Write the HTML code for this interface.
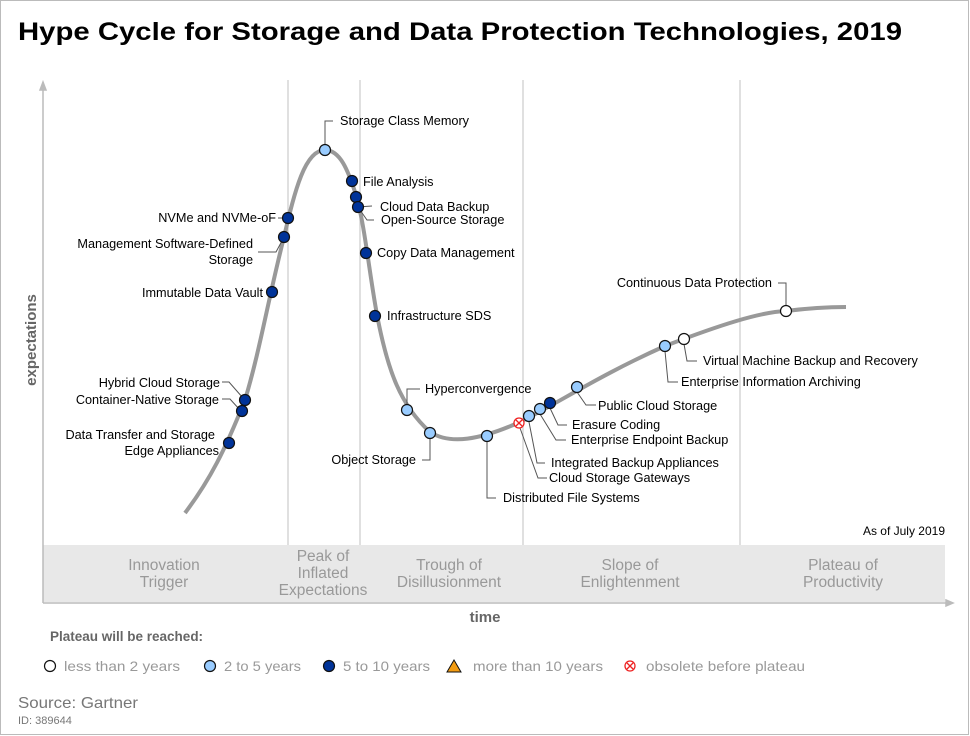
<!DOCTYPE html>
<html><head><meta charset="utf-8"><style>
html,body{margin:0;padding:0;background:#fff}
svg{display:block;font-family:"Liberation Sans",Arial,sans-serif}
</style></head><body>
<svg width="970" height="736" viewBox="0 0 970 736" xmlns="http://www.w3.org/2000/svg">
<rect x="0.5" y="0.5" width="968" height="734" fill="#fff" stroke="#bbb"/>
<text x="18" y="40" font-size="25" font-weight="bold" fill="#000" textLength="884" lengthAdjust="spacingAndGlyphs">Hype Cycle for Storage  and Data Protection Technologies, 2019</text>
<rect x="43" y="545" width="902" height="57" fill="#e8e8e8"/>
<g stroke="#ccc" stroke-width="1.2">
<line x1="288" y1="80" x2="288" y2="545"/><line x1="360" y1="80" x2="360" y2="545"/>
<line x1="523" y1="80" x2="523" y2="545"/><line x1="740" y1="80" x2="740" y2="545"/>
</g>
<g stroke="#bbb" stroke-width="1.5" fill="#bbb">
<line x1="43" y1="88" x2="43" y2="603"/><polygon points="40,90 43,82 46,90"/>
<line x1="43" y1="603" x2="948" y2="603"/><polygon points="946,600 953,603 946,606"/>
</g>
<text x="36" y="340" font-size="15" font-weight="bold" fill="#666" transform="rotate(-90 36 340)" text-anchor="middle">expectations</text>
<text x="485" y="622" font-size="15" font-weight="bold" fill="#666" text-anchor="middle">time</text>
<g font-size="15.5" fill="#999" text-anchor="middle">
<text x="164" y="570">Innovation</text><text x="164" y="587">Trigger</text>
<text x="323" y="561">Peak of</text><text x="323" y="578">Inflated</text><text x="323" y="595">Expectations</text>
<text x="449" y="570">Trough of</text><text x="449" y="587">Disillusionment</text>
<text x="630" y="570">Slope of</text><text x="630" y="587">Enlightenment</text>
<text x="843" y="570">Plateau of</text><text x="843" y="587">Productivity</text>
</g>
<text x="945" y="535" font-size="12" fill="#000" text-anchor="end">As of July 2019</text>
<path d="M185,513 C210,480 225,450 245,400 C260,350 268,300 284,237 C295,190 305,150 325,150 C340,150 348,170 356,195 C365,225 370,280 378,320 C388,370 400,405 430,432 C450,445 480,440 520,422 C560,402 600,375 665,346 C720,325 760,312 786,311 C810,308 830,307 846,307" fill="none" stroke="#999" stroke-width="4"/>
<g stroke="#555" stroke-width="1" fill="none">
<polyline points="325,144 325,121 333,121"/>
<polyline points="278,218 282,218"/>
<polyline points="258,252 276,252 283,239"/>
<polyline points="222,382 229,382 243,398"/>
<polyline points="222,399 230,399 240,410"/>
<polyline points="357,207 372,206"/>
<polyline points="360,210 367,220 374,220"/>
<polyline points="407,404 407,389 420,389"/>
<polyline points="422,460 430,460 430,438"/>
<polyline points="487,441 487,498 496,498"/>
<polyline points="520,428 538,478 547,478"/>
<polyline points="529,422 537,463 545,463"/>
<polyline points="540,414 556,440 566,440"/>
<polyline points="550,408 558,425 567,425"/>
<polyline points="577,392 586,405 596,405"/>
<polyline points="665,351 668,382 678,382"/>
<polyline points="684,344 687,361 697,361"/>
<polyline points="786,305 786,283 778,283"/>
</g>
<g font-size="12.7" fill="#000">
<text x="340" y="125">Storage Class Memory</text>
<text x="363" y="186">File Analysis</text>
<text x="380" y="211">Cloud Data Backup</text>
<text x="381" y="224">Open-Source Storage</text>
<text x="377" y="257">Copy Data Management</text>
<text x="387" y="320">Infrastructure SDS</text>
<text x="425" y="393">Hyperconvergence</text>
<text x="598" y="410">Public Cloud Storage</text>
<text x="572" y="429">Erasure Coding</text>
<text x="571" y="444">Enterprise Endpoint Backup</text>
<text x="551" y="467">Integrated Backup Appliances</text>
<text x="549" y="482">Cloud Storage Gateways</text>
<text x="503" y="502">Distributed File Systems</text>
<text x="681" y="386">Enterprise Information Archiving</text>
<text x="703" y="365">Virtual Machine Backup and Recovery</text>
<g text-anchor="end">
<text x="276" y="222">NVMe and NVMe-oF</text>
<text x="253" y="248">Management Software-Defined</text>
<text x="253" y="264">Storage</text>
<text x="263" y="297">Immutable Data Vault</text>
<text x="220" y="387">Hybrid Cloud Storage</text>
<text x="219" y="404">Container-Native Storage</text>
<text x="215" y="439">Data Transfer and Storage</text>
<text x="219" y="455">Edge Appliances</text>
<text x="416" y="464">Object Storage</text>
<text x="772" y="287">Continuous Data Protection</text>
</g>
</g>
<g stroke="#111" stroke-width="1.2">
<g fill="#003399">
<circle cx="352" cy="181" r="5.5"/><circle cx="356" cy="197" r="5.5"/><circle cx="358" cy="207" r="5.5"/>
<circle cx="366" cy="253" r="5.5"/><circle cx="375" cy="316" r="5.5"/><circle cx="288" cy="218" r="5.5"/>
<circle cx="284" cy="237" r="5.5"/><circle cx="272" cy="292" r="5.5"/><circle cx="245" cy="400" r="5.5"/>
<circle cx="242" cy="411" r="5.5"/><circle cx="229" cy="443" r="5.5"/><circle cx="550" cy="403" r="5.5"/>
</g>
<g fill="#99ccff">
<circle cx="325" cy="150" r="5.5"/><circle cx="407" cy="410" r="5.5"/><circle cx="430" cy="433" r="5.5"/>
<circle cx="487" cy="436" r="5.5"/><circle cx="529" cy="416" r="5.5"/><circle cx="540" cy="409" r="5.5"/>
<circle cx="577" cy="387" r="5.5"/><circle cx="665" cy="346" r="5.5"/>
</g>
<g fill="#fff"><circle cx="684" cy="339" r="5.5"/><circle cx="786" cy="311" r="5.5"/></g>
</g>
<g stroke="#e22" stroke-width="1.3" fill="#fff"><circle cx="519" cy="423" r="5"/><line x1="516" y1="420" x2="522" y2="426"/><line x1="522" y1="420" x2="516" y2="426"/></g>
<text x="50" y="641" font-size="13.5" font-weight="bold" fill="#666">Plateau will be reached:</text>
<g font-size="14" fill="#999">
<circle cx="50" cy="666" r="5.5" fill="#fff" stroke="#111" stroke-width="1.2"/><text x="64" y="671" textLength="116" lengthAdjust="spacingAndGlyphs">less than 2 years</text>
<circle cx="210" cy="666" r="5.5" fill="#99ccff" stroke="#111" stroke-width="1.2"/><text x="224" y="671" textLength="77" lengthAdjust="spacingAndGlyphs">2 to 5 years</text>
<circle cx="329" cy="666" r="5.5" fill="#003399" stroke="#111" stroke-width="1.2"/><text x="343" y="671" textLength="87" lengthAdjust="spacingAndGlyphs">5 to 10 years</text>
<polygon points="454,660 461,672 447,672" fill="#f39c12" stroke="#111" stroke-width="1"/><text x="473" y="671" textLength="130" lengthAdjust="spacingAndGlyphs">more than 10 years</text>
<circle cx="630" cy="666" r="5" fill="#fff" stroke="#e22" stroke-width="1.3"/><line x1="627" y1="663" x2="633" y2="669" stroke="#e22" stroke-width="1.3"/><line x1="633" y1="663" x2="627" y2="669" stroke="#e22" stroke-width="1.3"/><text x="646" y="671" textLength="159" lengthAdjust="spacingAndGlyphs">obsolete before plateau</text>
</g>
<text x="18" y="708" font-size="16" fill="#777" textLength="120" lengthAdjust="spacingAndGlyphs">Source: Gartner</text>
<text x="18" y="724" font-size="11" fill="#777">ID: 389644</text>
</svg>
</body></html>
